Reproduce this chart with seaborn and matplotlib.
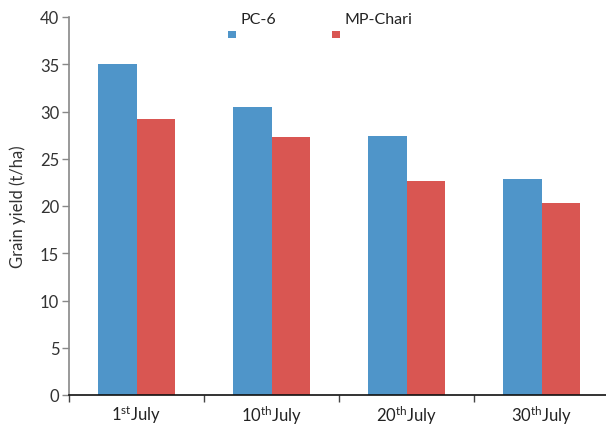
import seaborn as sns
import numpy as np
import pandas as pd
import matplotlib.pyplot as plt
from matplotlib.patches import Rectangle

dates = [r"1$^{\mathrm{st}}$July", r"10$^{\mathrm{th}}$July", r"20$^{\mathrm{th}}$July", r"30$^{\mathrm{th}}$July"]
pc6 = [35.0, 30.5, 27.4, 22.9]
mp_chari = [29.2, 27.3, 22.6, 20.3]
varieties = ["PC-6", "MP-Chari"]
colors = ["#4f95c9", "#d95652"]

df = pd.DataFrame({
    "date": dates * 2,
    "variety": [varieties[0]] * 4 + [varieties[1]] * 4,
    "yield": pc6 + mp_chari,
})

sns.set_style("white")
plt.rcParams['font.family'] = ['Lato', 'DejaVu Sans']
plt.rcParams['mathtext.fontset'] = 'custom'
plt.rcParams['mathtext.rm'] = 'Lato'
plt.rcParams['mathtext.it'] = 'Lato'

fig = plt.figure(figsize=(6.06, 4.31), dpi=100)
ax = fig.add_axes([69 / 606, 35 / 431, 540 / 606, 378 / 431])

sns.barplot(data=df, x="date", y="yield", hue="variety", palette=colors,
            width=0.57, saturation=1, legend=False, linewidth=0, ax=ax)

ax.set_xlim(-0.5, 3.5)
ax.set_ylim(0, 40)
ax.set_yticks(np.arange(0, 41, 5))
ax.set_xlabel("")
ax.set_ylabel("Grain yield (t/ha)", fontsize=12, color="#333333", labelpad=10)

ax.set_xticks(np.arange(-0.5, 4, 1), minor=True)
ax.tick_params(axis="x", which="major", length=0, pad=6, labelsize=12, labelcolor="#222222")
ax.tick_params(axis="x", which="minor", length=5, width=1, color="#444444", direction="out")
ax.tick_params(axis="y", length=5, width=1, color="#888888", direction="out",
               labelsize=12, labelcolor="#333333", pad=2)
ax.yaxis.set_ticks_position("left")
ax.xaxis.set_ticks_position("bottom")

for s in ["top", "right"]:
    ax.spines[s].set_visible(False)
ax.spines["left"].set_color("#888888")
ax.spines["left"].set_linewidth(1.2)
ax.spines["bottom"].set_color("#111111")
ax.spines["bottom"].set_linewidth(1.2)

# legend: label text above a small square
leg_x = [228, 332]
txt_x = [240, 345]
for i in range(2):
    fig.patches.append(Rectangle((leg_x[i] / 606, 1 - 39 / 431), 8 / 606, 7 / 431,
                                 transform=fig.transFigure, facecolor=colors[i],
                                 edgecolor="none"))
    fig.text(txt_x[i] / 606, 1 - 20 / 431, varieties[i], fontsize=11.5,
             color="#222222", ha="left", va="center")

fig.savefig("out.png", dpi=100)
